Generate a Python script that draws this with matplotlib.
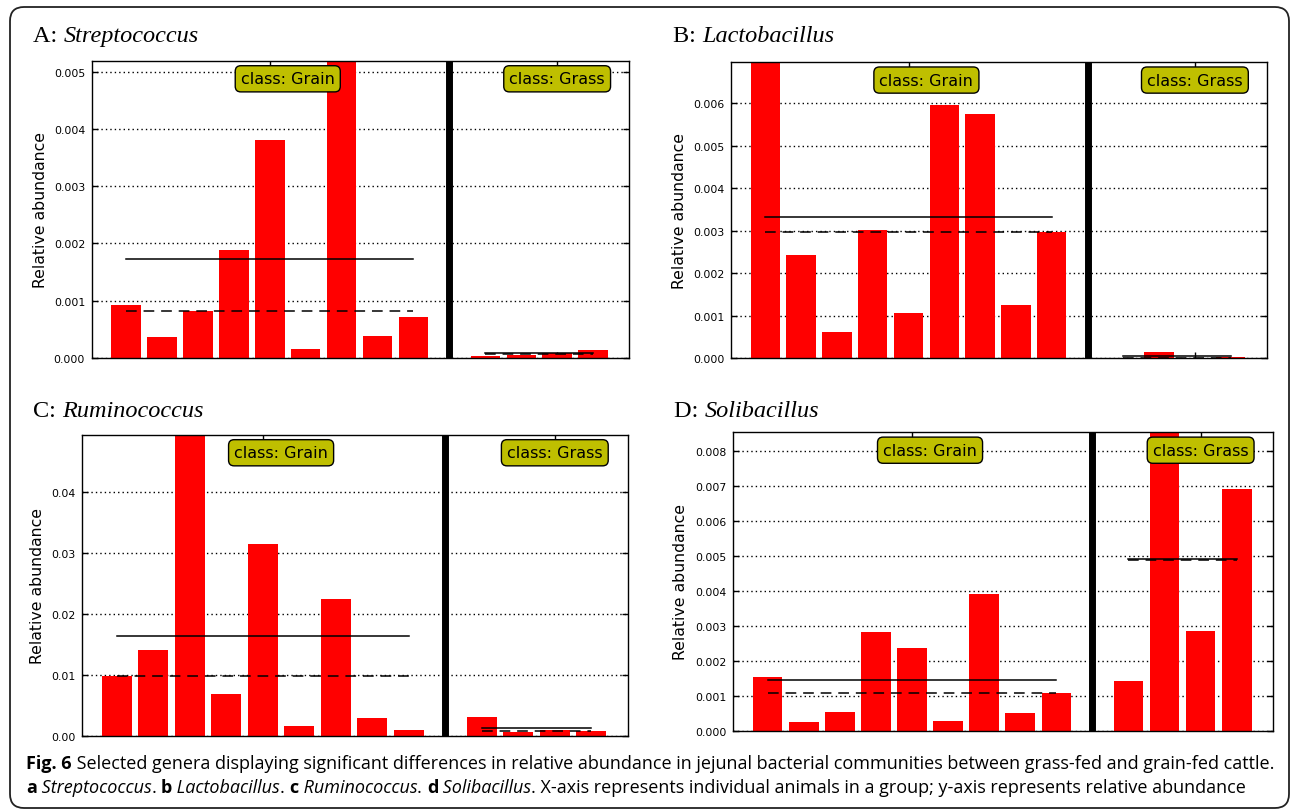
import numpy as np
import matplotlib
matplotlib.use('Agg')
import matplotlib.pyplot as plt
from matplotlib import font_manager
from matplotlib.patches import FancyBboxPatch
from matplotlib.ticker import FormatStrFormatter
from matplotlib.transforms import IdentityTransform, blended_transform_factory

W, H = 1292, 812

# --- data ---
panel_letters = ['A', 'B', 'C', 'D']
genera = ['Streptococcus', 'Lactobacillus', 'Ruminococcus', 'Solibacillus']
class_names = ['Grain', 'Grass']

grain_a = [0.00093, 0.00037, 0.00081, 0.00188, 0.00381, 0.00015, 0.0065, 0.00038, 0.00072]
grass_a = [0.00003, 0.00005, 0.00009, 0.00014]
mean_a = [0.00173, 0.000077]
median_a = [0.00081, 0.00007]

grain_b = [0.0071, 0.00244, 0.00061, 0.00302, 0.00107, 0.00596, 0.00575, 0.00125, 0.00297]
grass_b = [0.00001, 0.00015, 0.00001, 0.00002]
mean_b = [0.00333, 0.00005]
median_b = [0.00297, 0.000015]

grain_c = [0.00985, 0.01407, 0.0577, 0.00685, 0.03143, 0.00154, 0.0225, 0.00296, 0.00089]
grass_c = [0.00312, 0.00061, 0.00094, 0.00082]
mean_c = [0.01642, 0.00131]
median_c = [0.00985, 0.00077]

grain_d = [0.00153, 0.00024, 0.00053, 0.00282, 0.00236, 0.00027, 0.00391, 0.0005, 0.00108]
grass_d = [0.00143, 0.0095, 0.00286, 0.00692]
mean_d = [0.00146, 0.00492]
median_d = [0.00108, 0.00488]

y_top = [0.00519, 0.00696, 0.0494, 0.00854]
y_ticks = [
    [0.000, 0.001, 0.002, 0.003, 0.004, 0.005],
    [0.000, 0.001, 0.002, 0.003, 0.004, 0.005, 0.006],
    [0.00, 0.01, 0.02, 0.03, 0.04],
    [0.000, 0.001, 0.002, 0.003, 0.004, 0.005, 0.006, 0.007, 0.008],
]
y_fmt = ['%.3f', '%.3f', '%.2f', '%.3f']

caption1 = [("Fig. 6", 'bold', 'normal'),
            (" Selected genera displaying significant differences in relative abundance in "
             "jejunal bacterial communities between grass-fed and grain-fed cattle.", 'normal', 'normal')]
caption2 = [("a", 'bold', 'normal'), (" Streptococcus", 'normal', 'italic'), (". ", 'normal', 'normal'),
            ("b", 'bold', 'normal'), (" Lactobacillus", 'normal', 'italic'), (". ", 'normal', 'normal'),
            ("c", 'bold', 'normal'), (" Ruminococcus", 'normal', 'italic'), (". ", 'normal', 'normal'),
            ("d", 'bold', 'normal'), (" Solibacillus", 'normal', 'italic'),
            (". X-axis represents individual animals in a group; y-axis represents relative abundance",
             'normal', 'normal')]

panels = [
    (grain_a, grass_a, mean_a, median_a),
    (grain_b, grass_b, mean_b, median_b),
    (grain_c, grass_c, mean_c, median_c),
    (grain_d, grass_d, mean_d, median_d),
]

# axes boxes in image pixels: left, top, right, bottom
boxes = [(92, 62, 629, 358.7), (731.3, 63.3, 1266.5, 359.3),
         (82.2, 435.7, 627.8, 736.7), (733.4, 433.3, 1272.8, 731.7)]
ylabel_x = [48, 687.4, 44.5, 688.2]
title_pos = [(33, 41.7), (673, 41.7), (33, 416.7), (674, 417.3)]

fig = plt.figure(figsize=(W / 100, H / 100), dpi=100)
renderer = fig.canvas.get_renderer()


def run_width(txt, **kw):
    t1 = fig.text(0, 0, '|' + txt + '|', **kw)
    t2 = fig.text(0, 0, '||', **kw)
    w = t1.get_window_extent(renderer).width - t2.get_window_extent(renderer).width
    t1.remove()
    t2.remove()
    return w


def put_runs(x, y, runs, size, family):
    for txt, weight, style in runs:
        kw = dict(fontsize=size, family=family, fontweight=weight, fontstyle=style)
        fig.text(x / W, 1 - y / H, txt, va='baseline', ha='left', **kw)
        x += run_width(txt, **kw)
    return x


# outer rounded frame
frame = FancyBboxPatch((10, H - 809), 1279, 801, boxstyle='round,pad=0,rounding_size=14',
                       fc='none', ec='#222222', lw=1.3, transform=IdentityTransform())
fig.add_artist(frame)

for i, (grain, grass, means, medians) in enumerate(panels):
    l, t, r, b = boxes[i]
    ax = fig.add_axes([l / W, 1 - b / H, (r - l) / W, (b - t) / H])
    xg = np.arange(len(grain))
    xs = np.arange(len(grass)) + len(grain) + 1
    ax.bar(xg, grain, width=0.82, color='red', edgecolor='none', zorder=2)
    ax.bar(xs, grass, width=0.82, color='red', edgecolor='none', zorder=2)
    for xx, m, md in [(xg, means[0], medians[0]), (xs, means[1], medians[1])]:
        ax.plot([xx[0], xx[-1]], [m, m], '-', color='black', lw=1.1, zorder=3)
        ax.plot([xx[0], xx[-1]], [md, md], color='black', lw=1.1, dashes=(7, 4.5), zorder=3)
    ax.axvline(len(grain), color='black', lw=5, zorder=4)

    ax.set_xlim(-0.95, 14.0)
    ax.set_ylim(0, y_top[i])
    ax.set_yticks(y_ticks[i])
    ax.yaxis.set_major_formatter(FormatStrFormatter(y_fmt[i]))
    ax.set_xticks([4, 12])
    ax.set_xticklabels([])
    ax.tick_params(direction='in', top=True, right=True, length=4, width=1,
                   labelsize=7.8, pad=5)
    ax.yaxis.grid(True, color='black', lw=1, dashes=(1, 2.2), zorder=1)
    ax.set_axisbelow(True)
    for s in ax.spines.values():
        s.set_linewidth(1.0)

    ax.set_ylabel('Relative abundance', fontsize=11.3)
    ax.yaxis.set_label_coords((ylabel_x[i] - l) / (r - l), 0.5)

    tr = blended_transform_factory(ax.transData, ax.transAxes)
    for cx, name in [(4.5, class_names[0]), (12, class_names[1])]:
        ax.text(cx, 0.94, 'class: ' + name, transform=tr, ha='center', va='center',
                fontsize=11.5, zorder=10,
                bbox=dict(boxstyle='round,pad=0.35', fc='#bfbf00', ec='black', lw=1))

    tx, ty = title_pos[i]
    put_runs(tx, ty, [(panel_letters[i] + ': ', 'normal', 'normal'),
                      (genera[i], 'normal', 'italic')], 17.5, 'Liberation Serif')

# caption
names = {f.name for f in font_manager.fontManager.ttflist}
cap_family = 'Liberation Sans Narrow' if 'Liberation Sans Narrow' in names else 'Open Sans'
base = 12
w1 = sum(run_width(txt, fontsize=base, family=cap_family, fontweight=wt, fontstyle=st)
         for txt, wt, st in caption1)
cap_size = base * 1250 / w1
put_runs(26, 769.3, caption1, cap_size, cap_family)
put_runs(26, 792.7, caption2, cap_size, cap_family)

fig.savefig('out.png', dpi=100)
